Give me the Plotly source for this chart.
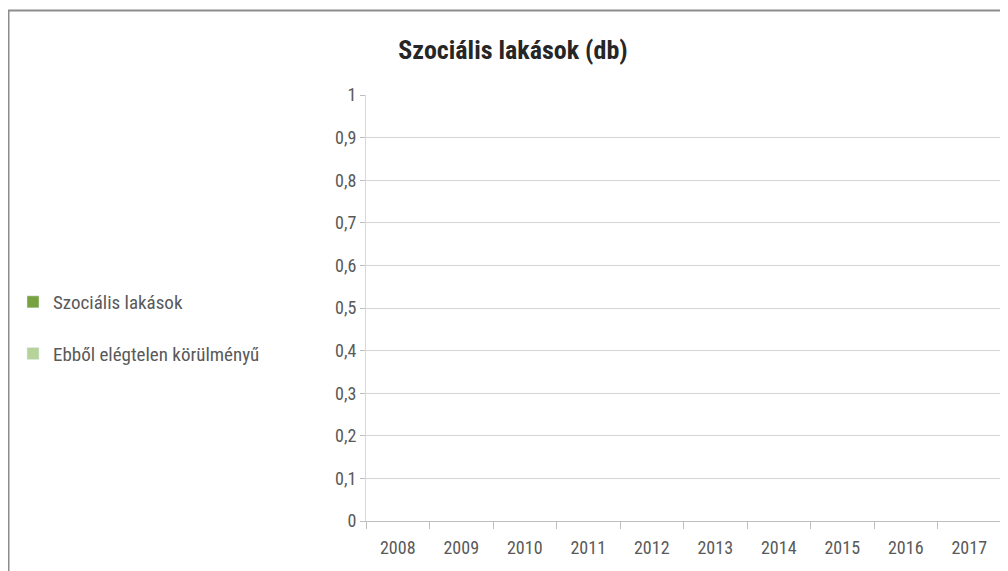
import plotly.graph_objects as go

years = ["2008", "2009", "2010", "2011", "2012", "2013", "2014", "2015", "2016", "2017"]
szocialis = [None] * 10
elegtelen = [None] * 10
y_ticks = [0, 0.1, 0.2, 0.3, 0.4, 0.5, 0.6, 0.7, 0.8, 0.9, 1]
y_ticklabels = ["0", "0,1", "0,2", "0,3", "0,4", "0,5", "0,6", "0,7", "0,8", "0,9", "1"]

FONT = "'Roboto Condensed', Carlito, sans-serif"

fig = go.Figure()
fig.add_trace(go.Bar(x=years, y=szocialis, name="Szociális lakások",
                     marker_color="#77a23f", legendgroup="a"))
fig.add_trace(go.Bar(x=years, y=elegtelen, name="Ebből elégtelen körülményű",
                     marker_color="#b6d39a", legendgroup="b"))

# page is offset by the 8px body margin
W, H = 1000, 563
L, R, T, B = 358, 7, 87, 50
pw = W - L - R
ph = H - T - B

def px_x(p):
    return (p - L) / pw

def px_y(p):
    return (H - B - p) / ph

fig.update_layout(
    width=W, height=H,
    margin=dict(l=L, r=R, t=T, b=B),
    paper_bgcolor="white", plot_bgcolor="white",
    font=dict(family=FONT, size=18, color="#595959"),
    title=dict(text="<b>Szociális lakások (db)</b>", x=505 / W, xanchor="center",
               y=1 - 42 / H, yanchor="middle",
               font=dict(family=FONT, size=26, color="#262626")),
    showlegend=True,
    legend=dict(xref="container", yref="container", x=5 / W, xanchor="left",
                y=1 - 275 / H, yanchor="top", tracegroupgap=24,
                font=dict(family=FONT, size=19, color="#595959"),
                itemwidth=30, bgcolor="rgba(0,0,0,0)"),
    xaxis=dict(type="category", showgrid=False, showline=True, linecolor="#bfbfbf",
               linewidth=1, ticks="outside", tickson="boundaries", ticklen=7,
               tickcolor="#bfbfbf", ticklabelstandoff=10,
               tickfont=dict(size=18, color="#595959")),
    yaxis=dict(range=[0, 1], tickvals=y_ticks, ticktext=y_ticklabels,
               showgrid=True, gridcolor="#d4d4d4", gridwidth=1,
               showline=True, linecolor="#d9d9d9", ticks="outside", ticklen=5,
               tickcolor="#bfbfbf", zeroline=False,
               tickfont=dict(size=18, color="#595959")),
    shapes=[
        dict(type="line", xref="paper", yref="paper", x0=px_x(0), x1=px_x(1005),
             y0=px_y(2.5), y1=px_y(2.5), line=dict(color="#8c8c8c", width=2)),
        dict(type="line", xref="paper", yref="paper", x0=px_x(0.5), x1=px_x(0.5),
             y0=px_y(2), y1=px_y(570), line=dict(color="#8c8c8c", width=2)),
    ],
)

fig.write_html("out.html")
